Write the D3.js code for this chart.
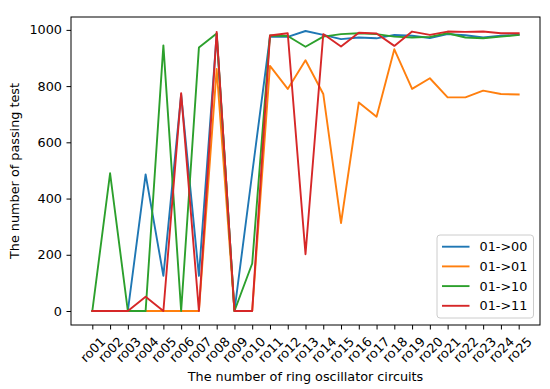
<!DOCTYPE html>
<html>
<head>
<meta charset="utf-8">
<script src="https://cdn.jsdelivr.net/npm/d3@7"></script>
<style>
  body { margin: 0; background: #fff; }
  svg text { font-family: "DejaVu Sans", sans-serif; fill: #000; }
</style>
</head>
<body>
<div id="plot"></div>
<script>
const width = 550
const height = 389
const margin = {top: 17, right: 10, bottom: 64, left: 71}

const fontSize = 12.8

// circuits on the x axis
const circuits = ['ro01', 'ro02', 'ro03', 'ro04', 'ro05', 'ro06', 'ro07', 'ro08', 'ro09', 'ro10',
    'ro11', 'ro12', 'ro13', 'ro14', 'ro15', 'ro16', 'ro17', 'ro18', 'ro19', 'ro20',
    'ro21', 'ro22', 'ro23', 'ro24', 'ro25']

// number of passing tests
const pass00 = [0, 0, 0, 486, 125, 770, 125, 985, 0, 490, 975, 975, 996, 982, 967, 973, 970, 982, 979, 971, 985, 981, 973, 979, 983]
const pass01 = [0, 0, 0, 0, 0, 0, 0, 861, 0, 0, 872, 790, 892, 772, 313, 742, 691, 931, 790, 828, 760, 760, 784, 772, 770]
const pass10 = [0, 490, 0, 0, 945, 0, 937, 987, 0, 169, 980, 978, 940, 976, 985, 988, 985, 976, 973, 975, 988, 973, 970, 976, 982]
const pass11 = [0, 0, 0, 51, 0, 775, 0, 993, 0, 0, 980, 988, 202, 985, 941, 990, 987, 943, 994, 982, 994, 993, 994, 988, 988]

const seriesNames = ['01->00', '01->01', '01->10', '01->11']
const seriesColors = ['#1f77b4', '#ff7f0e', '#2ca02c', '#d62728']
const yTicks = [0, 200, 400, 600, 800, 1000]

const series = [pass00, pass01, pass10, pass11].map((values, i) => ({
    name: seriesNames[i],
    color: seriesColors[i],
    values: values
}))

const svg = d3.select('div#plot').append('svg')
    .attr('width', width)
    .attr('height', height)
    .attr('viewBox', [0, 0, width, height])

const x0 = margin.left
const x1 = width - margin.right
const y0 = height - margin.bottom
const y1 = margin.top

const xScale = d3.scalePoint()
    .domain(circuits)
    .range([x0, x1])
    .padding(1.2)

// matplotlib style 5% margins on y
const allValues = series.flatMap(s => s.values)
const vMin = d3.min(allValues), vMax = d3.max(allValues)
const pad = (vMax - vMin) * 0.05
const yScale = d3.scaleLinear()
    .domain([vMin - pad, vMax + pad])
    .range([y0, y1])

// y axis
svg.append('g')
    .attr('transform', 'translate(' + x0 + ',0)')
    .call(d3.axisLeft(yScale).tickValues(yTicks).tickFormat(d3.format('d')).tickSize(4.5).tickPadding(4.5))
    .call(g => g.select('.domain').remove())
    .call(g => g.selectAll('.tick line').attr('stroke', '#000').attr('stroke-width', 1))
    .call(g => g.selectAll('.tick text')
        .attr('font-size', fontSize)
        .attr('font-family', 'DejaVu Sans')
        .attr('fill', '#000'))

// x axis, labels turned 45 degrees and centred under the tick
const xAxis = svg.append('g')
    .attr('transform', 'translate(0,' + y0 + ')')
    .call(d3.axisBottom(xScale).tickSize(4.5).tickPadding(4.5))
    .call(g => g.select('.domain').remove())
    .call(g => g.selectAll('.tick line').attr('stroke', '#000').attr('stroke-width', 1))

xAxis.selectAll('.tick text')
    .attr('font-size', fontSize)
    .attr('font-family', 'DejaVu Sans')
    .attr('fill', '#000')
    .attr('text-anchor', 'middle')
    .attr('dy', null)
    .attr('dominant-baseline', 'central')
    .each(function () {
        const w = this.getComputedTextLength()
        const h = fontSize * 1.17
        const half = (w + h) * Math.SQRT1_2 / 2
        const top = 4.5 + 4.5
        d3.select(this)
            .attr('x', 0)
            .attr('y', 0)
            .attr('transform', 'translate(0,' + (top + half) + ') rotate(-45)')
    })

// lines
const line = d3.line()
    .x((v, i) => xScale(circuits[i]))
    .y(v => yScale(v))

svg.append('g')
    .selectAll('path')
    .data(series)
    .enter()
    .append('path')
    .attr('d', s => line(s.values))
    .attr('fill', 'none')
    .attr('stroke', s => s.color)
    .attr('stroke-width', 1.9)
    .attr('stroke-linejoin', 'round')
    .attr('stroke-linecap', 'square')

// frame
svg.append('rect')
    .attr('x', x0)
    .attr('y', y1)
    .attr('width', x1 - x0)
    .attr('height', y0 - y1)
    .attr('fill', 'none')
    .attr('stroke', '#000')
    .attr('stroke-width', 1)

// axis titles
svg.append('text')
    .text('The number of ring oscillator circuits')
    .attr('x', (x0 + x1) / 2)
    .attr('y', 381)
    .attr('text-anchor', 'middle')
    .attr('font-size', fontSize)

svg.append('text')
    .text('The number of passing test')
    .attr('transform', 'translate(19,' + ((y0 + y1) / 2) + ') rotate(-90)')
    .attr('text-anchor', 'middle')
    .attr('font-size', fontSize)

// legend
const legend = svg.append('g')
    .attr('transform', 'translate(437,235)')

legend.append('rect')
    .attr('width', 96.5)
    .attr('height', 83)
    .attr('rx', 3)
    .attr('fill', '#fff')
    .attr('fill-opacity', 0.8)
    .attr('stroke', '#cccccc')
    .attr('stroke-width', 1)

const item = legend.selectAll('g.item')
    .data(series)
    .enter()
    .append('g')
    .attr('class', 'item')
    .attr('transform', (s, i) => 'translate(0,' + (11.7 + i * 19.7) + ')')

item.append('line')
    .attr('x1', 5)
    .attr('x2', 32.5)
    .attr('stroke', s => s.color)
    .attr('stroke-width', 1.9)

item.append('text')
    .text(s => s.name)
    .attr('x', 42.5)
    .attr('dominant-baseline', 'central')
    .attr('font-size', fontSize)
</script>
</body>
</html>
